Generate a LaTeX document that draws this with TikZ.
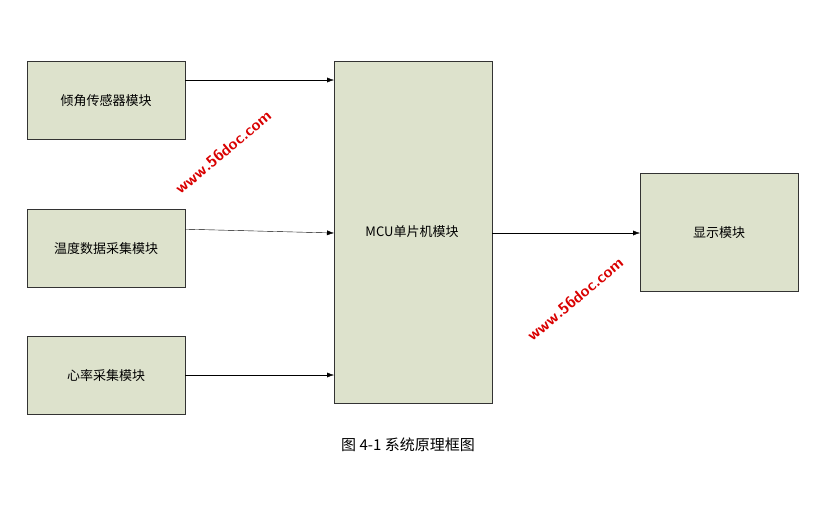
\documentclass[tikz,border=0pt]{standalone}
\usepackage{fontspec}
\newfontfamily\cjk{Noto Sans CJK SC}
\usetikzlibrary{positioning}
\usetikzlibrary{arrows.meta}
\begin{document}
\begin{tikzpicture}[x=1pt,y=-1pt,
% Block style
    block/.style={rectangle,draw=black!80,fill=boxfill,font=\cjk\fontsize{13}{15}\selectfont,
		minimum width=158pt,minimum height=78pt,anchor=north west},
    link/.style={draw=black,-{Latex[length=7pt,width=5pt]}},
% Watermark style
    mark56/.style={red!85!black,font=\sffamily\bfseries\fontsize{16}{18}\selectfont,rotate=40}
    ]
  \definecolor{boxfill}{HTML}{DDE2CC}
  \useasboundingbox (0,0) rectangle (833,512);
  \node (tilt) [block] at (27,61) {倾角传感器模块};
  \node (temp) [block] at (27,209) {温度数据采集模块};
  \node (heart) [block] at (27,336) {心率采集模块};
  \node (mcu) [block,minimum height=342pt] at (334,61) {};
  \node (mcutxt) [font=\cjk\fontsize{13}{15}\selectfont] at (412,232) {MCU单片机模块};
  \node (disp) [block,minimum height=118pt] at (640,173) {显示模块};
  \coordinate (in1) at (334,80);
  \coordinate (in2) at (334,233);
  \coordinate (in3) at (334,375);
  \coordinate (out) at (640,233);
  \draw[link] (tilt.east |- in1) -- (in1);
  \draw[link] ([yshift=19pt]temp.east) -- (in2);
  \draw[link] (heart.east |- in3) -- (in3);
  \draw[link] (mcu.east |- out) -- (out);
  \node (cap) at (408,445) {\cjk\fontsize{15}{17}\selectfont 图 4-1\ 系统原理框图};
% Watermarks
  \node (wm1) [mark56] at (223,152) {www.56doc.com};
  \node (wm2) [mark56] at (575,299) {www.56doc.com};
\end{tikzpicture}
\end{document}
